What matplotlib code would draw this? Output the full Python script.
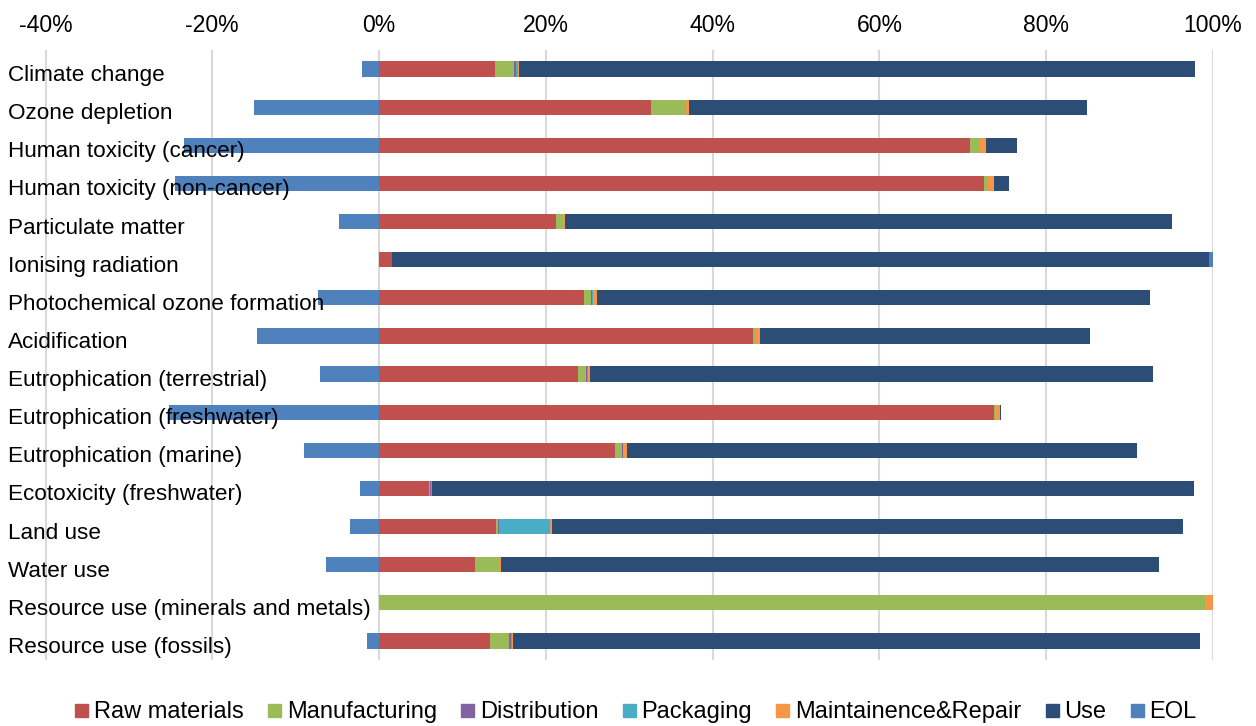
import matplotlib.pyplot as plt
from matplotlib.patches import Rectangle
import numpy as np

categories = ['Climate change', 'Ozone depletion', 'Human toxicity (cancer)',
              'Human toxicity (non-cancer)', 'Particulate matter', 'Ionising radiation',
              'Photochemical ozone formation', 'Acidification', 'Eutrophication (terrestrial)',
              'Eutrophication (freshwater)', 'Eutrophication (marine)', 'Ecotoxicity (freshwater)',
              'Land use', 'Water use', 'Resource use (minerals and metals)', 'Resource use (fossils)']

raw_materials = [13.9, 32.6, 70.9, 72.5, 21.2, 1.5, 24.6, 44.8, 23.8, 73.7, 28.3, 6.0, 14.0, 11.5, 0.0, 13.3]
manufacturing = [2.3, 4.2, 1.2, 0.5, 0.9, 0.05, 0.8, 0.4, 1.0, 0.1, 0.8, 0.1, 0.2, 3.0, 99.0, 2.3]
distribution = [0.2, 0.0, 0.0, 0.0, 0.0, 0.0, 0.1, 0.0, 0.1, 0.0, 0.1, 0.1, 0.2, 0.0, 0.0, 0.2]
packaging = [0.2, 0.0, 0.0, 0.0, 0.0, 0.0, 0.2, 0.0, 0.2, 0.0, 0.1, 0.1, 6.1, 0.0, 0.0, 0.1]
maintenance = [0.2, 0.4, 0.7, 0.7, 0.2, 0.0, 0.4, 0.5, 0.2, 0.6, 0.4, 0.0, 0.2, 0.15, 1.0, 0.2]
use = [81.1, 47.7, 3.7, 1.8, 72.8, 98.0, 66.4, 39.5, 67.5, 0.2, 61.2, 91.4, 75.7, 78.9, 0.0, 82.3]
eol = [-2.0, -15.0, -23.4, -24.5, -4.8, 0.5, -7.3, -14.7, -7.1, -25.2, -9.0, -2.3, -3.5, -6.4, 0.0, -1.5]

series_names = ['Raw materials', 'Manufacturing', 'Distribution', 'Packaging',
                'Maintainence&Repair', 'Use', 'EOL']
series_values = [raw_materials, manufacturing, distribution, packaging, maintenance, use, eol]
colors = ['#C0504D', '#9BBB59', '#8064A2', '#4BACC6', '#F79646', '#2C4D75', '#4F81BD']

plt.rcParams['font.family'] = ['Liberation Sans', 'DejaVu Sans']
plt.rcParams['font.size'] = 16

W, H = 1256, 726
fig = plt.figure(figsize=(W / 100, H / 100), dpi=100)
ax = fig.add_axes([8 / W, 66 / H, (1213 - 8) / W, (676 - 66) / H])

y = np.arange(len(categories))
pos_base = np.zeros(len(categories))
neg_base = np.zeros(len(categories))
for name, vals, col in zip(series_names, series_values, colors):
    vals = np.array(vals, dtype=float)
    left = np.where(vals >= 0, pos_base, neg_base)
    ax.barh(y, vals, left=left, height=0.4, color=col, label=name, zorder=3)
    pos_base += np.where(vals >= 0, vals, 0)
    neg_base += np.where(vals < 0, vals, 0)

ax.set_xlim(-44.5, 100)
ax.set_ylim(len(categories) - 0.5, -0.5)
ax.set_xticks(range(-40, 101, 20))
ax.set_xticklabels([f'{t}%' for t in range(-40, 101, 20)], fontsize=16.6)
ax.xaxis.tick_top()
ax.tick_params(axis='x', length=0, pad=9)
ax.set_yticks([])
for s in ax.spines.values():
    s.set_visible(False)
ax.grid(axis='x', color='#D9D9D9', linewidth=1.5, zorder=0)

# category labels sit inside the plot, over the bars
for i, c in enumerate(categories):
    ax.text(-44.5, i + 0.17, c, ha='left', va='center', fontsize=16.2, zorder=5)

# legend row at the bottom, laid out by hand so all labels share one baseline
renderer = fig.canvas.get_renderer()
box = 13
gap = 6
spacing = 24
baseline = 718
texts = []
widths = []
for name in series_names:
    t = fig.text(0, 1 - baseline / H, name, fontsize=17, va='baseline', ha='left')
    texts.append(t)
    widths.append(t.get_window_extent(renderer).width)
total = sum(widths) + len(series_names) * (box + gap) + (len(series_names) - 1) * spacing
x = (77 + 1195) / 2 - total / 2
for t, w, col in zip(texts, widths, colors):
    fig.patches.append(Rectangle((x / W, 1 - 717 / H), box / W, box / H,
                                 transform=fig.transFigure, color=col, figure=fig))
    t.set_x((x + box + gap) / W)
    x += box + gap + w + spacing

fig.savefig('out.png', dpi=100)
